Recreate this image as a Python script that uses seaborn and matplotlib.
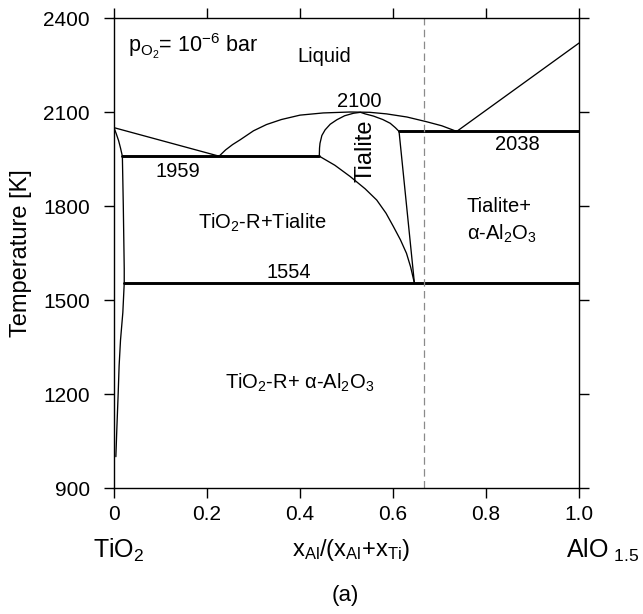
import matplotlib
matplotlib.use("Agg")
import matplotlib.pyplot as plt
import seaborn as sns

# ---- phase boundaries of the TiO2 - AlO1.5 system at pO2 = 1e-6 bar ----
# composition x = x_Al/(x_Al+x_Ti), temperature in K

# liquidus, TiO2 side: TiO2 melting point down to the rutile/tialite eutectic
liq_left_x = [0.0, 0.226]
liq_left_T = [2050, 1959]

# liquidus dome over tialite, between the two eutectics
liq_dome_x = [0.226, 0.240, 0.255, 0.271, 0.300, 0.328, 0.360, 0.400, 0.450,
              0.508, 0.550, 0.586, 0.630, 0.672, 0.705, 0.737]
liq_dome_T = [1959, 1979, 1996, 2011, 2040, 2060, 2076, 2090, 2097,
              2100, 2099, 2094, 2084, 2069, 2056, 2038]

# liquidus, alumina side
liq_right_x = [0.737, 1.0]
liq_right_T = [2038, 2320]

# rutile solid-solution solidus and solvus
rut_solidus_x = [0.0, 0.005, 0.010, 0.014, 0.018]
rut_solidus_T = [2050, 2030, 2008, 1985, 1959]
rut_solvus_x = [0.018, 0.019, 0.020, 0.021, 0.022, 0.022, 0.019, 0.014, 0.011,
                0.009, 0.006, 0.004]
rut_solvus_T = [1959, 1880, 1800, 1700, 1600, 1554, 1460, 1372, 1290,
                1202, 1085, 1000]

# tialite field: upper (melting) boundary, Al-rich side and lower boundary
tia_top_x = [0.4415, 0.442, 0.443, 0.447, 0.454, 0.465, 0.479, 0.496, 0.515,
             0.530, 0.540, 0.558, 0.578, 0.594, 0.605, 0.613]
tia_top_T = [1959, 1985, 2000, 2025, 2043, 2061, 2075, 2088, 2096,
             2099, 2094, 2087, 2076, 2064, 2050, 2038]
tia_right_x = [0.613, 0.646]
tia_right_T = [2038, 1554]
tia_low_x = [0.4415, 0.475, 0.508, 0.540, 0.565, 0.585, 0.601, 0.616, 0.629,
             0.638, 0.646]
tia_low_T = [1959, 1930, 1894, 1855, 1819, 1777, 1734, 1692, 1649,
             1605, 1554]

# invariant (eutectic / eutectoid) lines
eut_1959_x = [0.018, 0.4415]
eut_1959_T = [1959, 1959]
eut_1554_x = [0.022, 1.0]
eut_1554_T = [1554, 1554]
eut_2038_x = [0.613, 1.0]
eut_2038_T = [2038, 2038]

# stoichiometric Al2TiO5 composition
al2tio5_x = 2.0 / 3.0

x_ticks = [0.0, 0.2, 0.4, 0.6, 0.8, 1.0]
x_tick_labels = ["0", "0.2", "0.4", "0.6", "0.8", "1.0"]
y_ticks = [900, 1200, 1500, 1800, 2100, 2400]

sns.set_style("ticks")
plt.rcParams["font.family"] = ["Liberation Sans", "DejaVu Sans"]
plt.rcParams["text.color"] = "black"
plt.rcParams["axes.labelcolor"] = "black"
plt.rcParams["xtick.color"] = "black"
plt.rcParams["ytick.color"] = "black"
plt.rcParams["mathtext.default"] = "regular"
plt.rcParams["mathtext.fontset"] = "custom"
plt.rcParams["mathtext.rm"] = "Liberation Sans"

fig = plt.figure(figsize=(6.43, 6.14), dpi=100)
ax = fig.add_axes([114 / 643, 126 / 614, 465 / 643, 470 / 614])

thin = [
    (liq_left_x, liq_left_T), (liq_dome_x, liq_dome_T),
    (liq_right_x, liq_right_T), (rut_solidus_x, rut_solidus_T),
    (rut_solvus_x, rut_solvus_T), (tia_top_x, tia_top_T),
    (tia_right_x, tia_right_T), (tia_low_x, tia_low_T),
]
thick = [
    (eut_1959_x, eut_1959_T), (eut_1554_x, eut_1554_T),
    (eut_2038_x, eut_2038_T),
]
for xs, ts in thin:
    sns.lineplot(x=xs, y=ts, sort=False, estimator=None, color="black",
                 linewidth=0.95, ax=ax)
for xs, ts in thick:
    sns.lineplot(x=xs, y=ts, sort=False, estimator=None, color="black",
                 linewidth=2.1, ax=ax)

ax.axvline(al2tio5_x, color="#8a8a8a", linewidth=0.9, linestyle=(0, (6, 3.5)))

ax.set_xlim(0, 1.0)
ax.set_ylim(900, 2400)
ax.set_xticks(x_ticks)
ax.set_xticklabels(x_tick_labels)
ax.set_yticks(y_ticks)
ax.tick_params(direction="out", length=7.5, width=1.0, labelsize=15,
               top=True, right=True, labeltop=False, labelright=False,
               color="black", labelcolor="black")
ax.tick_params(axis="x", pad=5)
ax.tick_params(axis="y", pad=10)
for s in ax.spines.values():
    s.set_visible(True)
    s.set_linewidth(1.0)
    s.set_color("black")

ax.set_ylabel("Temperature [K]", fontsize=17, color="black")
ax.yaxis.set_label_coords(-0.176, 0.5)

# region and temperature labels
fs = 14.5
ax.text(0.030, 2288, "p$_{O_2}$= 10$^{-6}$ bar", fontsize=15.5, ha="left",
        va="baseline")
ax.text(0.452, 2260, "Liquid", fontsize=fs, ha="center", va="baseline")
ax.text(0.527, 2117, "2100", fontsize=fs, ha="center", va="baseline")
ax.text(0.540, 1976, "Tialite", fontsize=17, ha="center", va="center",
        rotation=90)
ax.text(0.138, 1894, "1959", fontsize=fs, ha="center", va="baseline")
ax.text(0.867, 1979, "2038", fontsize=fs, ha="center", va="baseline")
ax.text(0.759, 1782, "Tialite+", fontsize=fs, ha="left", va="baseline")
ax.text(0.759, 1692, "α-Al$_2$O$_3$", fontsize=fs, ha="left", va="baseline")
ax.text(0.181, 1726, "TiO$_2$-R+Tialite", fontsize=fs, ha="left",
        va="baseline")
ax.text(0.376, 1571, "1554", fontsize=fs, ha="center", va="baseline")
ax.text(0.239, 1218, "TiO$_2$-R+ α-Al$_2$O$_3$", fontsize=fs, ha="left",
        va="baseline")

# composition axis end members and axis title
fig.text(93 / 643, 1 - 558 / 614, "TiO$_2$", fontsize=18, ha="left",
         va="baseline")
fig.text(351 / 643, 1 - 556 / 614, "x$_{Al}$/(x$_{Al}$+x$_{Ti}$)",
         fontsize=17, ha="center", va="baseline")
fig.text(566 / 643, 1 - 558 / 614, "AlO$_{\\ 1.5}$", fontsize=18,
         ha="left", va="baseline")
fig.text(345 / 643, 1 - 595 / 614, "(a)", fontsize=16, ha="center",
         va="center")

fig.savefig("out.png", dpi=100, facecolor="white")
